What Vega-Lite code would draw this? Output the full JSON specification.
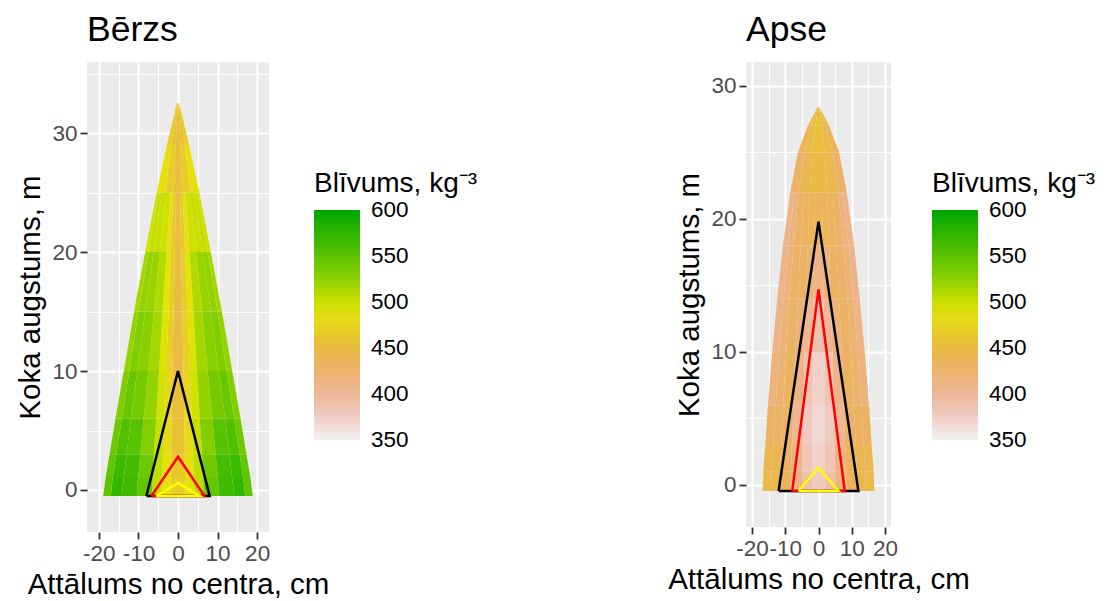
{
"$schema":"https://vega.github.io/schema/vega-lite/v6.json",
"padding":{"left":15,"top":12,"right":0,"bottom":0},
"config":{"font":"Liberation Sans","view":{"fill":"#EBEBEB","stroke":null},
"axis":{"domain":false,"labelFontSize":22.5,"labelColor":"#4D4D4D","titleFontSize":29.5,"titleFontWeight":"normal","titleColor":"#000000","tickSize":7,"tickWidth":1.8,"labelPadding":3,"gridColor":"#FFFFFF","labelFlush":false,"titlePadding":6},
"legend":{"titleFontSize":28,"titleFontWeight":"normal","titleColor":"#000000","labelFontSize":22.5,"labelColor":"#000000","gradientLength":230,"gradientThickness":46,"gradientStrokeWidth":0,"labelOffset":11,"titlePadding":12,"labelOverlap":false,"direction":"vertical"},
"title":{"fontSize":35.5,"fontWeight":"normal","anchor":"start","frame":"group","color":"#000000","offset":14}},
"datasets":{
"bh":[
{"k":"b0c","y":-0.5,"x":-1.9,"x2":1.9,"v":470},{"k":"b0c","y":1,"x":-1.8,"x2":1.8,"v":470},
{"k":"b0l1","y":-0.5,"x":-4.2,"x2":-1.9,"v":485},{"k":"b0l1","y":1,"x":-4,"x2":-1.8,"v":485},
{"k":"b0r1","y":-0.5,"x":1.9,"x2":4.2,"v":485},{"k":"b0r1","y":1,"x":1.8,"x2":4,"v":485},
{"k":"b0l2","y":-0.5,"x":-6.6,"x2":-4.2,"v":505},{"k":"b0l2","y":1,"x":-6.4,"x2":-4,"v":505},
{"k":"b0r2","y":-0.5,"x":4.2,"x2":6.6,"v":505},{"k":"b0r2","y":1,"x":4,"x2":6.4,"v":505},
{"k":"b0l3","y":-0.5,"x":-10.4,"x2":-6.6,"v":545},{"k":"b0l3","y":1,"x":-10.1,"x2":-6.4,"v":545},
{"k":"b0r3","y":-0.5,"x":6.6,"x2":10.4,"v":545},{"k":"b0r3","y":1,"x":6.4,"x2":10.1,"v":545},
{"k":"b0l4","y":-0.5,"x":-14.2,"x2":-10.4,"v":565},{"k":"b0l4","y":1,"x":-13.7,"x2":-10.1,"v":565},
{"k":"b0r4","y":-0.5,"x":10.4,"x2":14.2,"v":565},{"k":"b0r4","y":1,"x":10.1,"x2":13.7,"v":565},
{"k":"b0l5","y":-0.5,"x":-17,"x2":-14.2,"v":570},{"k":"b0l5","y":1,"x":-16.5,"x2":-13.7,"v":570},
{"k":"b0r5","y":-0.5,"x":14.2,"x2":17,"v":570},{"k":"b0r5","y":1,"x":13.7,"x2":16.5,"v":570},
{"k":"b0l6","y":-0.5,"x":-18.9,"x2":-17,"v":548},{"k":"b0l6","y":1,"x":-18.3,"x2":-16.5,"v":548},
{"k":"b0r6","y":-0.5,"x":17,"x2":18.9,"v":548},{"k":"b0r6","y":1,"x":16.5,"x2":18.3,"v":548},

{"k":"b1c","y":1,"x":-1.8,"x2":1.8,"v":465},{"k":"b1c","y":3,"x":-1.7,"x2":1.7,"v":465},
{"k":"b1l1","y":1,"x":-4,"x2":-1.8,"v":485},{"k":"b1l1","y":3,"x":-3.8,"x2":-1.7,"v":485},
{"k":"b1r1","y":1,"x":1.8,"x2":4,"v":485},{"k":"b1r1","y":3,"x":1.7,"x2":3.8,"v":485},
{"k":"b1l2","y":1,"x":-6.4,"x2":-4,"v":505},{"k":"b1l2","y":3,"x":-6.1,"x2":-3.8,"v":505},
{"k":"b1r2","y":1,"x":4,"x2":6.4,"v":505},{"k":"b1r2","y":3,"x":3.8,"x2":6.1,"v":505},
{"k":"b1l3","y":1,"x":-10.1,"x2":-6.4,"v":540},{"k":"b1l3","y":3,"x":-9.5,"x2":-6.1,"v":540},
{"k":"b1r3","y":1,"x":6.4,"x2":10.1,"v":540},{"k":"b1r3","y":3,"x":6.1,"x2":9.5,"v":540},
{"k":"b1l4","y":1,"x":-13.7,"x2":-10.1,"v":562},{"k":"b1l4","y":3,"x":-13,"x2":-9.5,"v":562},
{"k":"b1r4","y":1,"x":10.1,"x2":13.7,"v":562},{"k":"b1r4","y":3,"x":9.5,"x2":13,"v":562},
{"k":"b1l5","y":1,"x":-16.5,"x2":-13.7,"v":566},{"k":"b1l5","y":3,"x":-15.6,"x2":-13,"v":566},
{"k":"b1r5","y":1,"x":13.7,"x2":16.5,"v":566},{"k":"b1r5","y":3,"x":13,"x2":15.6,"v":566},
{"k":"b1l6","y":1,"x":-18.3,"x2":-16.5,"v":545},{"k":"b1l6","y":3,"x":-17.3,"x2":-15.6,"v":545},
{"k":"b1r6","y":1,"x":16.5,"x2":18.3,"v":545},{"k":"b1r6","y":3,"x":15.6,"x2":17.3,"v":545},

{"k":"b2c","y":3,"x":-1.7,"x2":1.7,"v":460},{"k":"b2c","y":6,"x":-1.6,"x2":1.6,"v":460},
{"k":"b2l1","y":3,"x":-3.8,"x2":-1.7,"v":480},{"k":"b2l1","y":6,"x":-3.5,"x2":-1.6,"v":480},
{"k":"b2r1","y":3,"x":1.7,"x2":3.8,"v":480},{"k":"b2r1","y":6,"x":1.6,"x2":3.5,"v":480},
{"k":"b2l2","y":3,"x":-6.1,"x2":-3.8,"v":502},{"k":"b2l2","y":6,"x":-5.5,"x2":-3.5,"v":502},
{"k":"b2r2","y":3,"x":3.8,"x2":6.1,"v":502},{"k":"b2r2","y":6,"x":3.5,"x2":5.5,"v":502},
{"k":"b2l3","y":3,"x":-9.5,"x2":-6.1,"v":530},{"k":"b2l3","y":6,"x":-8.7,"x2":-5.5,"v":530},
{"k":"b2r3","y":3,"x":6.1,"x2":9.5,"v":530},{"k":"b2r3","y":6,"x":5.5,"x2":8.7,"v":530},
{"k":"b2l4","y":3,"x":-13,"x2":-9.5,"v":550},{"k":"b2l4","y":6,"x":-11.9,"x2":-8.7,"v":550},
{"k":"b2r4","y":3,"x":9.5,"x2":13,"v":550},{"k":"b2r4","y":6,"x":8.7,"x2":11.9,"v":550},
{"k":"b2l5","y":3,"x":-15.6,"x2":-13,"v":555},{"k":"b2l5","y":6,"x":-14.2,"x2":-11.9,"v":555},
{"k":"b2r5","y":3,"x":13,"x2":15.6,"v":555},{"k":"b2r5","y":6,"x":11.9,"x2":14.2,"v":555},
{"k":"b2l6","y":3,"x":-17.3,"x2":-15.6,"v":540},{"k":"b2l6","y":6,"x":-15.8,"x2":-14.2,"v":540},
{"k":"b2r6","y":3,"x":15.6,"x2":17.3,"v":540},{"k":"b2r6","y":6,"x":14.2,"x2":15.8,"v":540},

{"k":"b3c","y":6,"x":-1.6,"x2":1.6,"v":455},{"k":"b3c","y":10,"x":-1.4,"x2":1.4,"v":455},
{"k":"b3l1","y":6,"x":-3.5,"x2":-1.6,"v":475},{"k":"b3l1","y":10,"x":-3,"x2":-1.4,"v":475},
{"k":"b3r1","y":6,"x":1.6,"x2":3.5,"v":475},{"k":"b3r1","y":10,"x":1.4,"x2":3,"v":475},
{"k":"b3l2","y":6,"x":-5.5,"x2":-3.5,"v":497},{"k":"b3l2","y":10,"x":-4.8,"x2":-3,"v":497},
{"k":"b3r2","y":6,"x":3.5,"x2":5.5,"v":497},{"k":"b3r2","y":10,"x":3,"x2":4.8,"v":497},
{"k":"b3l3","y":6,"x":-8.7,"x2":-5.5,"v":522},{"k":"b3l3","y":10,"x":-7.5,"x2":-4.8,"v":522},
{"k":"b3r3","y":6,"x":5.5,"x2":8.7,"v":522},{"k":"b3r3","y":10,"x":4.8,"x2":7.5,"v":522},
{"k":"b3l4","y":6,"x":-11.9,"x2":-8.7,"v":537},{"k":"b3l4","y":10,"x":-10.3,"x2":-7.5,"v":537},
{"k":"b3r4","y":6,"x":8.7,"x2":11.9,"v":537},{"k":"b3r4","y":10,"x":7.5,"x2":10.3,"v":537},
{"k":"b3l5","y":6,"x":-14.2,"x2":-11.9,"v":542},{"k":"b3l5","y":10,"x":-12.3,"x2":-10.3,"v":542},
{"k":"b3r5","y":6,"x":11.9,"x2":14.2,"v":542},{"k":"b3r5","y":10,"x":10.3,"x2":12.3,"v":542},
{"k":"b3l6","y":6,"x":-15.8,"x2":-14.2,"v":532},{"k":"b3l6","y":10,"x":-13.7,"x2":-12.3,"v":532},
{"k":"b3r6","y":6,"x":14.2,"x2":15.8,"v":532},{"k":"b3r6","y":10,"x":12.3,"x2":13.7,"v":532},

{"k":"b4c","y":10,"x":-1.4,"x2":1.4,"v":452},{"k":"b4c","y":15,"x":-1.1,"x2":1.1,"v":452},
{"k":"b4l1","y":10,"x":-3,"x2":-1.4,"v":470},{"k":"b4l1","y":15,"x":-2.4,"x2":-1.1,"v":470},
{"k":"b4r1","y":10,"x":1.4,"x2":3,"v":470},{"k":"b4r1","y":15,"x":1.1,"x2":2.4,"v":470},
{"k":"b4l2","y":10,"x":-4.8,"x2":-3,"v":493},{"k":"b4l2","y":15,"x":-3.9,"x2":-2.4,"v":493},
{"k":"b4r2","y":10,"x":3,"x2":4.8,"v":493},{"k":"b4r2","y":15,"x":2.4,"x2":3.9,"v":493},
{"k":"b4l3","y":10,"x":-7.5,"x2":-4.8,"v":515},{"k":"b4l3","y":15,"x":-6.1,"x2":-3.9,"v":515},
{"k":"b4r3","y":10,"x":4.8,"x2":7.5,"v":515},{"k":"b4r3","y":15,"x":3.9,"x2":6.1,"v":515},
{"k":"b4l4","y":10,"x":-10.3,"x2":-7.5,"v":528},{"k":"b4l4","y":15,"x":-8.3,"x2":-6.1,"v":528},
{"k":"b4r4","y":10,"x":7.5,"x2":10.3,"v":528},{"k":"b4r4","y":15,"x":6.1,"x2":8.3,"v":528},
{"k":"b4l5","y":10,"x":-12.3,"x2":-10.3,"v":532},{"k":"b4l5","y":15,"x":-10,"x2":-8.3,"v":532},
{"k":"b4r5","y":10,"x":10.3,"x2":12.3,"v":532},{"k":"b4r5","y":15,"x":8.3,"x2":10,"v":532},
{"k":"b4l6","y":10,"x":-13.7,"x2":-12.3,"v":522},{"k":"b4l6","y":15,"x":-11.1,"x2":-10,"v":522},
{"k":"b4r6","y":10,"x":12.3,"x2":13.7,"v":522},{"k":"b4r6","y":15,"x":10,"x2":11.1,"v":522},

{"k":"b5c","y":15,"x":-1.1,"x2":1.1,"v":452},{"k":"b5c","y":20,"x":-0.8,"x2":0.8,"v":452},
{"k":"b5l1","y":15,"x":-2.4,"x2":-1.1,"v":468},{"k":"b5l1","y":20,"x":-1.8,"x2":-0.8,"v":468},
{"k":"b5r1","y":15,"x":1.1,"x2":2.4,"v":468},{"k":"b5r1","y":20,"x":0.8,"x2":1.8,"v":468},
{"k":"b5l2","y":15,"x":-3.9,"x2":-2.4,"v":490},{"k":"b5l2","y":20,"x":-2.9,"x2":-1.8,"v":490},
{"k":"b5r2","y":15,"x":2.4,"x2":3.9,"v":490},{"k":"b5r2","y":20,"x":1.8,"x2":2.9,"v":490},
{"k":"b5l3","y":15,"x":-6.1,"x2":-3.9,"v":510},{"k":"b5l3","y":20,"x":-4.6,"x2":-2.9,"v":510},
{"k":"b5r3","y":15,"x":3.9,"x2":6.1,"v":510},{"k":"b5r3","y":20,"x":2.9,"x2":4.6,"v":510},
{"k":"b5l4","y":15,"x":-8.3,"x2":-6.1,"v":520},{"k":"b5l4","y":20,"x":-6.2,"x2":-4.6,"v":520},
{"k":"b5r4","y":15,"x":6.1,"x2":8.3,"v":520},{"k":"b5r4","y":20,"x":4.6,"x2":6.2,"v":520},
{"k":"b5l5","y":15,"x":-10,"x2":-8.3,"v":522},{"k":"b5l5","y":20,"x":-7.5,"x2":-6.2,"v":522},
{"k":"b5r5","y":15,"x":8.3,"x2":10,"v":522},{"k":"b5r5","y":20,"x":6.2,"x2":7.5,"v":522},
{"k":"b5l6","y":15,"x":-11.1,"x2":-10,"v":515},{"k":"b5l6","y":20,"x":-8.3,"x2":-7.5,"v":515},
{"k":"b5r6","y":15,"x":10,"x2":11.1,"v":515},{"k":"b5r6","y":20,"x":7.5,"x2":8.3,"v":515},

{"k":"b6c","y":20,"x":-0.8,"x2":0.8,"v":455},{"k":"b6c","y":25,"x":-0.5,"x2":0.5,"v":455},
{"k":"b6l1","y":20,"x":-1.8,"x2":-0.8,"v":465},{"k":"b6l1","y":25,"x":-1.2,"x2":-0.5,"v":465},
{"k":"b6r1","y":20,"x":0.8,"x2":1.8,"v":465},{"k":"b6r1","y":25,"x":0.5,"x2":1.2,"v":465},
{"k":"b6l2","y":20,"x":-2.9,"x2":-1.8,"v":483},{"k":"b6l2","y":25,"x":-1.9,"x2":-1.2,"v":483},
{"k":"b6r2","y":20,"x":1.8,"x2":2.9,"v":483},{"k":"b6r2","y":25,"x":1.2,"x2":1.9,"v":483},
{"k":"b6l3","y":20,"x":-4.6,"x2":-2.9,"v":498},{"k":"b6l3","y":25,"x":-3,"x2":-1.9,"v":498},
{"k":"b6r3","y":20,"x":2.9,"x2":4.6,"v":498},{"k":"b6r3","y":25,"x":1.9,"x2":3,"v":498},
{"k":"b6l4","y":20,"x":-6.2,"x2":-4.6,"v":501},{"k":"b6l4","y":25,"x":-4.1,"x2":-3,"v":501},
{"k":"b6r4","y":20,"x":4.6,"x2":6.2,"v":501},{"k":"b6r4","y":25,"x":3,"x2":4.1,"v":501},
{"k":"b6l5","y":20,"x":-7.5,"x2":-6.2,"v":502},{"k":"b6l5","y":25,"x":-4.9,"x2":-4.1,"v":502},
{"k":"b6r5","y":20,"x":6.2,"x2":7.5,"v":502},{"k":"b6r5","y":25,"x":4.1,"x2":4.9,"v":502},
{"k":"b6l6","y":20,"x":-8.3,"x2":-7.5,"v":498},{"k":"b6l6","y":25,"x":-5.4,"x2":-4.9,"v":498},
{"k":"b6r6","y":20,"x":7.5,"x2":8.3,"v":498},{"k":"b6r6","y":25,"x":4.9,"x2":5.4,"v":498},

{"k":"b7c","y":25,"x":-1.1,"x2":1.1,"v":455},{"k":"b7c","y":29,"x":-0.6,"x2":0.6,"v":455},
{"k":"b7l1","y":25,"x":-3.2,"x2":-1.1,"v":468},{"k":"b7l1","y":29,"x":-1.7,"x2":-0.6,"v":468},
{"k":"b7r1","y":25,"x":1.1,"x2":3.2,"v":468},{"k":"b7r1","y":29,"x":0.6,"x2":1.7,"v":468},
{"k":"b7l2","y":25,"x":-5.4,"x2":-3.2,"v":485},{"k":"b7l2","y":29,"x":-2.8,"x2":-1.7,"v":485},
{"k":"b7r2","y":25,"x":3.2,"x2":5.4,"v":485},{"k":"b7r2","y":29,"x":1.7,"x2":2.8,"v":485},
{"k":"b8c","y":29,"x":-0.6,"x2":0.6,"v":455},{"k":"b8c","y":32.5,"x":-0.1,"x2":0.1,"v":455},
{"k":"b8l1","y":29,"x":-1.7,"x2":-0.6,"v":460},{"k":"b8l1","y":32.5,"x":-0.2,"x2":-0.1,"v":460},
{"k":"b8r1","y":29,"x":0.6,"x2":1.7,"v":460},{"k":"b8r1","y":32.5,"x":0.1,"x2":0.2,"v":460},
{"k":"b8l2","y":29,"x":-2.8,"x2":-1.7,"v":468},{"k":"b8l2","y":32.5,"x":-0.3,"x2":-0.2,"v":468},
{"k":"b8r2","y":29,"x":1.7,"x2":2.8,"v":468},{"k":"b8r2","y":32.5,"x":0.2,"x2":0.3,"v":468}
],
"ah":[
{"k":"a0c","y":-0.45,"x":-2,"x2":2,"v":378},{"k":"a0c","y":1,"x":-2,"x2":2,"v":378},
{"k":"a0l1","y":-0.45,"x":-5,"x2":-2,"v":390},{"k":"a0l1","y":1,"x":-5,"x2":-2,"v":390},
{"k":"a0r1","y":-0.45,"x":2,"x2":5,"v":390},{"k":"a0r1","y":1,"x":2,"x2":5,"v":390},
{"k":"a0l2","y":-0.45,"x":-8.4,"x2":-5,"v":412},{"k":"a0l2","y":1,"x":-8.3,"x2":-5,"v":412},
{"k":"a0r2","y":-0.45,"x":5,"x2":8.4,"v":412},{"k":"a0r2","y":1,"x":5,"x2":8.3,"v":412},
{"k":"a0l3","y":-0.45,"x":-11.8,"x2":-8.4,"v":435},{"k":"a0l3","y":1,"x":-11.6,"x2":-8.3,"v":435},
{"k":"a0r3","y":-0.45,"x":8.4,"x2":11.8,"v":435},{"k":"a0r3","y":1,"x":8.3,"x2":11.6,"v":435},
{"k":"a0l4","y":-0.45,"x":-14.3,"x2":-11.8,"v":445},{"k":"a0l4","y":1,"x":-14.1,"x2":-11.6,"v":445},
{"k":"a0r4","y":-0.45,"x":11.8,"x2":14.3,"v":445},{"k":"a0r4","y":1,"x":11.6,"x2":14.1,"v":445},
{"k":"a0l5","y":-0.45,"x":-16.8,"x2":-14.3,"v":448},{"k":"a0l5","y":1,"x":-16.6,"x2":-14.1,"v":448},
{"k":"a0r5","y":-0.45,"x":14.3,"x2":16.8,"v":448},{"k":"a0r5","y":1,"x":14.1,"x2":16.6,"v":448},

{"k":"a1c","y":1,"x":-2,"x2":2,"v":372},{"k":"a1c","y":3,"x":-1.9,"x2":1.9,"v":372},
{"k":"a1l1","y":1,"x":-5,"x2":-2,"v":383},{"k":"a1l1","y":3,"x":-4.8,"x2":-1.9,"v":383},
{"k":"a1r1","y":1,"x":2,"x2":5,"v":383},{"k":"a1r1","y":3,"x":1.9,"x2":4.8,"v":383},
{"k":"a1l2","y":1,"x":-8.3,"x2":-5,"v":408},{"k":"a1l2","y":3,"x":-8,"x2":-4.8,"v":408},
{"k":"a1r2","y":1,"x":5,"x2":8.3,"v":408},{"k":"a1r2","y":3,"x":4.8,"x2":8,"v":408},
{"k":"a1l3","y":1,"x":-11.6,"x2":-8.3,"v":432},{"k":"a1l3","y":3,"x":-11.2,"x2":-8,"v":432},
{"k":"a1r3","y":1,"x":8.3,"x2":11.6,"v":432},{"k":"a1r3","y":3,"x":8,"x2":11.2,"v":432},
{"k":"a1l4","y":1,"x":-14.1,"x2":-11.6,"v":440},{"k":"a1l4","y":3,"x":-13.6,"x2":-11.2,"v":440},
{"k":"a1r4","y":1,"x":11.6,"x2":14.1,"v":440},{"k":"a1r4","y":3,"x":11.2,"x2":13.6,"v":440},
{"k":"a1l5","y":1,"x":-16.6,"x2":-14.1,"v":442},{"k":"a1l5","y":3,"x":-16,"x2":-13.6,"v":442},
{"k":"a1r5","y":1,"x":14.1,"x2":16.6,"v":442},{"k":"a1r5","y":3,"x":13.6,"x2":16,"v":442},

{"k":"a2c","y":3,"x":-1.9,"x2":1.9,"v":368},{"k":"a2c","y":6,"x":-1.8,"x2":1.8,"v":368},
{"k":"a2l1","y":3,"x":-4.8,"x2":-1.9,"v":378},{"k":"a2l1","y":6,"x":-4.6,"x2":-1.8,"v":378},
{"k":"a2r1","y":3,"x":1.9,"x2":4.8,"v":378},{"k":"a2r1","y":6,"x":1.8,"x2":4.6,"v":378},
{"k":"a2l2","y":3,"x":-8,"x2":-4.8,"v":402},{"k":"a2l2","y":6,"x":-7.6,"x2":-4.6,"v":402},
{"k":"a2r2","y":3,"x":4.8,"x2":8,"v":402},{"k":"a2r2","y":6,"x":4.6,"x2":7.6,"v":402},
{"k":"a2l3","y":3,"x":-11.2,"x2":-8,"v":428},{"k":"a2l3","y":6,"x":-10.6,"x2":-7.6,"v":428},
{"k":"a2r3","y":3,"x":8,"x2":11.2,"v":428},{"k":"a2r3","y":6,"x":7.6,"x2":10.6,"v":428},
{"k":"a2l4","y":3,"x":-13.6,"x2":-11.2,"v":432},{"k":"a2l4","y":6,"x":-12.9,"x2":-10.6,"v":432},
{"k":"a2r4","y":3,"x":11.2,"x2":13.6,"v":432},{"k":"a2r4","y":6,"x":10.6,"x2":12.9,"v":432},
{"k":"a2l5","y":3,"x":-16,"x2":-13.6,"v":430},{"k":"a2l5","y":6,"x":-15.2,"x2":-12.9,"v":430},
{"k":"a2r5","y":3,"x":13.6,"x2":16,"v":430},{"k":"a2r5","y":6,"x":12.9,"x2":15.2,"v":430},

{"k":"a3c","y":6,"x":-1.8,"x2":1.8,"v":372},{"k":"a3c","y":10,"x":-1.7,"x2":1.7,"v":372},
{"k":"a3l1","y":6,"x":-4.6,"x2":-1.8,"v":385},{"k":"a3l1","y":10,"x":-4.2,"x2":-1.7,"v":385},
{"k":"a3r1","y":6,"x":1.8,"x2":4.6,"v":385},{"k":"a3r1","y":10,"x":1.7,"x2":4.2,"v":385},
{"k":"a3l2","y":6,"x":-7.6,"x2":-4.6,"v":408},{"k":"a3l2","y":10,"x":-7,"x2":-4.2,"v":408},
{"k":"a3r2","y":6,"x":4.6,"x2":7.6,"v":408},{"k":"a3r2","y":10,"x":4.2,"x2":7,"v":408},
{"k":"a3l3","y":6,"x":-10.6,"x2":-7.6,"v":430},{"k":"a3l3","y":10,"x":-9.7,"x2":-7,"v":430},
{"k":"a3r3","y":6,"x":7.6,"x2":10.6,"v":430},{"k":"a3r3","y":10,"x":7,"x2":9.7,"v":430},
{"k":"a3l4","y":6,"x":-12.9,"x2":-10.6,"v":425},{"k":"a3l4","y":10,"x":-11.8,"x2":-9.7,"v":425},
{"k":"a3r4","y":6,"x":10.6,"x2":12.9,"v":425},{"k":"a3r4","y":10,"x":9.7,"x2":11.8,"v":425},
{"k":"a3l5","y":6,"x":-15.2,"x2":-12.9,"v":416},{"k":"a3l5","y":10,"x":-13.9,"x2":-11.8,"v":416},
{"k":"a3r5","y":6,"x":12.9,"x2":15.2,"v":416},{"k":"a3r5","y":10,"x":11.8,"x2":13.9,"v":416},

{"k":"a4c","y":10,"x":-1.7,"x2":1.7,"v":387},{"k":"a4c","y":14,"x":-1.5,"x2":1.5,"v":387},
{"k":"a4l1","y":10,"x":-4.2,"x2":-1.7,"v":400},{"k":"a4l1","y":14,"x":-3.7,"x2":-1.5,"v":400},
{"k":"a4r1","y":10,"x":1.7,"x2":4.2,"v":400},{"k":"a4r1","y":14,"x":1.5,"x2":3.7,"v":400},
{"k":"a4l2","y":10,"x":-7,"x2":-4.2,"v":418},{"k":"a4l2","y":14,"x":-6.2,"x2":-3.7,"v":418},
{"k":"a4r2","y":10,"x":4.2,"x2":7,"v":418},{"k":"a4r2","y":14,"x":3.7,"x2":6.2,"v":418},
{"k":"a4l3","y":10,"x":-9.7,"x2":-7,"v":430},{"k":"a4l3","y":14,"x":-8.7,"x2":-6.2,"v":430},
{"k":"a4r3","y":10,"x":7,"x2":9.7,"v":430},{"k":"a4r3","y":14,"x":6.2,"x2":8.7,"v":430},
{"k":"a4l4","y":10,"x":-11.8,"x2":-9.7,"v":421},{"k":"a4l4","y":14,"x":-10.5,"x2":-8.7,"v":421},
{"k":"a4r4","y":10,"x":9.7,"x2":11.8,"v":421},{"k":"a4r4","y":14,"x":8.7,"x2":10.5,"v":421},
{"k":"a4l5","y":10,"x":-13.9,"x2":-11.8,"v":411},{"k":"a4l5","y":14,"x":-12.4,"x2":-10.5,"v":411},
{"k":"a4r5","y":10,"x":11.8,"x2":13.9,"v":411},{"k":"a4r5","y":14,"x":10.5,"x2":12.4,"v":411},

{"k":"a5c","y":14,"x":-1.5,"x2":1.5,"v":410},{"k":"a5c","y":18,"x":-1.3,"x2":1.3,"v":410},
{"k":"a5l1","y":14,"x":-3.7,"x2":-1.5,"v":420},{"k":"a5l1","y":18,"x":-3.2,"x2":-1.3,"v":420},
{"k":"a5r1","y":14,"x":1.5,"x2":3.7,"v":420},{"k":"a5r1","y":18,"x":1.3,"x2":3.2,"v":420},
{"k":"a5l2","y":14,"x":-6.2,"x2":-3.7,"v":430},{"k":"a5l2","y":18,"x":-5.4,"x2":-3.2,"v":430},
{"k":"a5r2","y":14,"x":3.7,"x2":6.2,"v":430},{"k":"a5r2","y":18,"x":3.2,"x2":5.4,"v":430},
{"k":"a5l3","y":14,"x":-8.7,"x2":-6.2,"v":429},{"k":"a5l3","y":18,"x":-7.5,"x2":-5.4,"v":429},
{"k":"a5r3","y":14,"x":6.2,"x2":8.7,"v":429},{"k":"a5r3","y":18,"x":5.4,"x2":7.5,"v":429},
{"k":"a5l4","y":14,"x":-10.5,"x2":-8.7,"v":417},{"k":"a5l4","y":18,"x":-9.1,"x2":-7.5,"v":417},
{"k":"a5r4","y":14,"x":8.7,"x2":10.5,"v":417},{"k":"a5r4","y":18,"x":7.5,"x2":9.1,"v":417},
{"k":"a5l5","y":14,"x":-12.4,"x2":-10.5,"v":408},{"k":"a5l5","y":18,"x":-10.7,"x2":-9.1,"v":408},
{"k":"a5r5","y":14,"x":10.5,"x2":12.4,"v":408},{"k":"a5r5","y":18,"x":9.1,"x2":10.7,"v":408},

{"k":"a6c","y":18,"x":-1.3,"x2":1.3,"v":435},{"k":"a6c","y":22,"x":-1,"x2":1,"v":435},
{"k":"a6l1","y":18,"x":-3.2,"x2":-1.3,"v":438},{"k":"a6l1","y":22,"x":-2.6,"x2":-1,"v":438},
{"k":"a6r1","y":18,"x":1.3,"x2":3.2,"v":438},{"k":"a6r1","y":22,"x":1,"x2":2.6,"v":438},
{"k":"a6l2","y":18,"x":-5.4,"x2":-3.2,"v":435},{"k":"a6l2","y":22,"x":-4.3,"x2":-2.6,"v":435},
{"k":"a6r2","y":18,"x":3.2,"x2":5.4,"v":435},{"k":"a6r2","y":22,"x":2.6,"x2":4.3,"v":435},
{"k":"a6l3","y":18,"x":-7.5,"x2":-5.4,"v":429},{"k":"a6l3","y":22,"x":-6,"x2":-4.3,"v":429},
{"k":"a6r3","y":18,"x":5.4,"x2":7.5,"v":429},{"k":"a6r3","y":22,"x":4.3,"x2":6,"v":429},
{"k":"a6l4","y":18,"x":-9.1,"x2":-7.5,"v":417},{"k":"a6l4","y":22,"x":-7.2,"x2":-6,"v":417},
{"k":"a6r4","y":18,"x":7.5,"x2":9.1,"v":417},{"k":"a6r4","y":22,"x":6,"x2":7.2,"v":417},
{"k":"a6l5","y":18,"x":-10.7,"x2":-9.1,"v":408},{"k":"a6l5","y":22,"x":-8.5,"x2":-7.2,"v":408},
{"k":"a6r5","y":18,"x":9.1,"x2":10.7,"v":408},{"k":"a6r5","y":22,"x":7.2,"x2":8.5,"v":408},

{"k":"a7c","y":22,"x":-2.6,"x2":2.6,"v":450},{"k":"a7c","y":25,"x":-1.9,"x2":1.9,"v":450},
{"k":"a7l1","y":22,"x":-6,"x2":-2.6,"v":442},{"k":"a7l1","y":25,"x":-4.3,"x2":-1.9,"v":442},
{"k":"a7r1","y":22,"x":2.6,"x2":6,"v":442},{"k":"a7r1","y":25,"x":1.9,"x2":4.3,"v":442},
{"k":"a7l2","y":22,"x":-8.5,"x2":-6,"v":427},{"k":"a7l2","y":25,"x":-6.2,"x2":-4.3,"v":427},
{"k":"a7r2","y":22,"x":6,"x2":8.5,"v":427},{"k":"a7r2","y":25,"x":4.3,"x2":6.2,"v":427},
{"k":"a8c","y":25,"x":-1.9,"x2":1.9,"v":456},{"k":"a8c","y":27,"x":-1,"x2":1,"v":456},
{"k":"a8l1","y":25,"x":-4.3,"x2":-1.9,"v":448},{"k":"a8l1","y":27,"x":-2.2,"x2":-1,"v":448},
{"k":"a8r1","y":25,"x":1.9,"x2":4.3,"v":448},{"k":"a8r1","y":27,"x":1,"x2":2.2,"v":448},
{"k":"a8l2","y":25,"x":-6.2,"x2":-4.3,"v":436},{"k":"a8l2","y":27,"x":-3.2,"x2":-2.2,"v":436},
{"k":"a8r2","y":25,"x":4.3,"x2":6.2,"v":436},{"k":"a8r2","y":27,"x":2.2,"x2":3.2,"v":436},
{"k":"a9c","y":27,"x":-1,"x2":1,"v":458},{"k":"a9c","y":28.4,"x":-0.1,"x2":0.1,"v":458},
{"k":"a9l1","y":27,"x":-2.2,"x2":-1,"v":452},{"k":"a9l1","y":28.4,"x":-0.2,"x2":-0.1,"v":452},
{"k":"a9r1","y":27,"x":1,"x2":2.2,"v":452},{"k":"a9r1","y":28.4,"x":0.1,"x2":0.2,"v":452},
{"k":"a9l2","y":27,"x":-3.2,"x2":-2.2,"v":442},{"k":"a9l2","y":28.4,"x":-0.3,"x2":-0.2,"v":442},
{"k":"a9r2","y":27,"x":2.2,"x2":3.2,"v":442},{"k":"a9r2","y":28.4,"x":0.2,"x2":0.3,"v":442}
],
"bl":[
{"g":"black","o":1,"x":-8,"y":-0.5},{"g":"black","o":2,"x":0,"y":10},{"g":"black","o":3,"x":8,"y":-0.5},{"g":"black","o":4,"x":-8,"y":-0.5},
{"g":"red","o":1,"x":-6.7,"y":-0.5},{"g":"red","o":2,"x":0,"y":2.8},{"g":"red","o":3,"x":6.7,"y":-0.5},{"g":"red","o":4,"x":-6.7,"y":-0.5},
{"g":"yellow","o":1,"x":-5.5,"y":-0.5},{"g":"yellow","o":2,"x":0,"y":0.6},{"g":"yellow","o":3,"x":5.5,"y":-0.5},{"g":"yellow","o":4,"x":-5.5,"y":-0.5}
],
"al":[
{"g":"black","o":1,"x":-12,"y":-0.45},{"g":"black","o":2,"x":0,"y":19.8},{"g":"black","o":3,"x":12,"y":-0.45},{"g":"black","o":4,"x":-12,"y":-0.45},
{"g":"red","o":1,"x":-7.9,"y":-0.45},{"g":"red","o":2,"x":0,"y":14.7},{"g":"red","o":3,"x":7.9,"y":-0.45},{"g":"red","o":4,"x":-7.9,"y":-0.45},
{"g":"yellow","o":1,"x":-6,"y":-0.45},{"g":"yellow","o":2,"x":0,"y":1.3},{"g":"yellow","o":3,"x":6,"y":-0.45},{"g":"yellow","o":4,"x":-6,"y":-0.45}
]
},
"resolve":{"scale":{"color":"independent","x":"independent","y":"independent"},"legend":{"color":"independent"}},
"spacing":189,
"hconcat":[
{"width":182,"height":470,"title":{"text":"Bērzs"},
"encoding":{
"x":{"field":"x","type":"quantitative","stack":null,"scale":{"domain":[-23,23],"nice":false,"zero":false},"title":"Attālums no centra, cm",
"axis":{"values":[-20,-15,-10,-5,0,5,10,15,20],"labelExpr":"datum.value % 10 === 0 ? '' + datum.value : ''","tickColor":{"condition":{"test":"datum.value % 10 !== 0","value":"transparent"},"value":"#333333"},"gridWidth":{"condition":{"test":"datum.value % 10 !== 0","value":1.1},"value":2.2}}},
"y":{"field":"y","type":"quantitative","scale":{"domain":[-3.53,35.97],"nice":false,"zero":false},"title":"Koka augstums, m",
"axis":{"values":[0,5,10,15,20,25,30,35],"labelExpr":"datum.value % 10 === 0 ? '' + datum.value : ''","tickColor":{"condition":{"test":"datum.value % 10 !== 0","value":"transparent"},"value":"#333333"},"gridWidth":{"condition":{"test":"datum.value % 10 !== 0","value":1.1},"value":2.2}}}},
"layer":[
{"data":{"name":"bh"},"mark":{"type":"area","orient":"horizontal","opacity":1,"fillOpacity":1},
"encoding":{"x2":{"field":"x2"},"detail":{"field":"k"},
"color":{"field":"v","type":"quantitative","scale":{"type":"linear","domain":[349.9,377.78,405.56,433.33,461.11,488.89,516.67,544.44,572.22,600.1],"range":["#F2F2F2","#F0C9C0","#EDB48E","#EBB25E","#E8C32E","#E6E600","#A0D600","#63C600","#2DB600","#00A600"],"interpolate":"lab"},
"legend":{"type":"gradient","orient":"none","legendX":227,"legendY":108,"title":"Blīvums, kg⁻³","values":[350,400,450,500,550,600],"labelOffset":11,"labelBaseline":"middle"}}}},
{"data":{"name":"bl"},"transform":[{"filter":"datum.g === 'black'"}],"mark":{"type":"line","color":"#000000","strokeWidth":2.5},"encoding":{"order":{"field":"o"}}},
{"data":{"name":"bl"},"transform":[{"filter":"datum.g === 'red'"}],"mark":{"type":"line","color":"#FF0000","strokeWidth":2.5},"encoding":{"order":{"field":"o"}}},
{"data":{"name":"bl"},"transform":[{"filter":"datum.g === 'yellow'"}],"mark":{"type":"line","color":"#FFFF00","strokeWidth":2.5},"encoding":{"order":{"field":"o"}}}
]},
{"width":145,"height":465,"title":{"text":"Apse"},
"encoding":{
"x":{"field":"x","type":"quantitative","stack":null,"scale":{"domain":[-21.8,21.8],"nice":false,"zero":false},"title":"Attālums no centra, cm",
"axis":{"values":[-20,-15,-10,-5,0,5,10,15,20],"labelExpr":"datum.value % 10 === 0 ? '' + datum.value : ''","tickColor":{"condition":{"test":"datum.value % 10 !== 0","value":"transparent"},"value":"#333333"},"gridWidth":{"condition":{"test":"datum.value % 10 !== 0","value":1.1},"value":2.2}}},
"y":{"field":"y","type":"quantitative","scale":{"domain":[-3.16,31.8],"nice":false,"zero":false},"title":"Koka augstums, m",
"axis":{"values":[0,5,10,15,20,25,30],"labelExpr":"datum.value % 10 === 0 ? '' + datum.value : ''","tickColor":{"condition":{"test":"datum.value % 10 !== 0","value":"transparent"},"value":"#333333"},"gridWidth":{"condition":{"test":"datum.value % 10 !== 0","value":1.1},"value":2.2}}}},
"layer":[
{"data":{"name":"ah"},"mark":{"type":"area","orient":"horizontal","opacity":1,"fillOpacity":1},
"encoding":{"x2":{"field":"x2"},"detail":{"field":"k"},
"color":{"field":"v","type":"quantitative","scale":{"type":"linear","domain":[349.9,377.78,405.56,433.33,461.11,488.89,516.67,544.44,572.22,600.1],"range":["#F2F2F2","#F0C9C0","#EDB48E","#EBB25E","#E8C32E","#E6E600","#A0D600","#63C600","#2DB600","#00A600"],"interpolate":"lab"},
"legend":{"type":"gradient","orient":"none","legendX":186,"legendY":108,"title":"Blīvums, kg⁻³","values":[350,400,450,500,550,600],"labelOffset":11,"labelBaseline":"middle"}}}},
{"data":{"name":"al"},"transform":[{"filter":"datum.g === 'black'"}],"mark":{"type":"line","color":"#000000","strokeWidth":2.5},"encoding":{"order":{"field":"o"}}},
{"data":{"name":"al"},"transform":[{"filter":"datum.g === 'red'"}],"mark":{"type":"line","color":"#FF0000","strokeWidth":2.5},"encoding":{"order":{"field":"o"}}},
{"data":{"name":"al"},"transform":[{"filter":"datum.g === 'yellow'"}],"mark":{"type":"line","color":"#FFFF00","strokeWidth":2.5},"encoding":{"order":{"field":"o"}}}
]}
]
}
